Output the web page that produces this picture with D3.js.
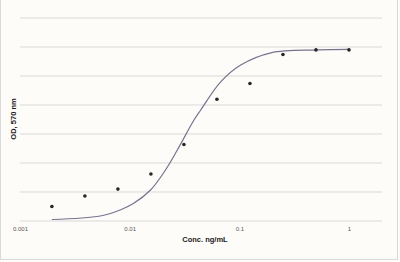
<!DOCTYPE html>
<html>
<head>
<meta charset="utf-8">
<script src="https://cdn.jsdelivr.net/npm/d3@7"></script>
<style>
  html, body { margin: 0; padding: 0; background: #fdfcf8; }
  svg { display: block; }
</style>
</head>
<body>
<div id="chart"></div>
<script>
// two-fold dilution series, ng/mL
const conc = [0.001953, 0.003906, 0.007813, 0.015625, 0.03125, 0.0625, 0.125, 0.25, 0.5, 1];
const od = [0.25, 0.43, 0.55, 0.81, 1.32, 2.10, 2.37, 2.87, 2.95, 2.95];

// fitted curve
const fitConc = [0.00195, 0.0054, 0.0082, 0.0108, 0.0155, 0.0212, 0.0272, 0.0386, 0.0443, 0.0676, 0.103, 0.194, 0.52, 1];
const fitOd = [0.026, 0.086, 0.19, 0.30, 0.534, 0.879, 1.224, 1.741, 1.91, 2.40, 2.69, 2.90, 2.95, 2.96];

const xTicks = [0.001, 0.01, 0.1, 1];
const xTickLabels = ['0.001', '0.01', '0.1', '1'];

const width = 400;
const height = 262;

const svg = d3.select('#chart').append('svg')
    .attr('width', width)
    .attr('height', height);

// outer frame
svg.append('rect')
    .attr('x', 0.5).attr('y', -1)
    .attr('width', width - 3).attr('height', height - 1.5)
    .attr('fill', '#fdfcf8')
    .attr('stroke', '#d9d9d9');

const x = d3.scaleLog().domain([0.001, 2]).range([20, 382]);
const y = d3.scaleLinear().domain([0, 3.5]).range([221, 18]);

// horizontal gridlines
svg.append('g')
    .selectAll('line')
    .data(d3.range(0, 3.51, 0.5))
    .enter()
    .append('line')
    .attr('x1', x.range()[0])
    .attr('x2', x.range()[1])
    .attr('y1', d => y(d))
    .attr('y2', d => y(d))
    .attr('stroke', '#d9d9d9')
    .attr('stroke-width', 1);

// x tick labels
const xAxis = d3.axisBottom(x)
    .tickValues(xTicks)
    .tickFormat((d, i) => xTickLabels[i])
    .tickSize(0)
    .tickPadding(6);

svg.append('g')
    .attr('transform', `translate(0,${y(0)})`)
    .call(xAxis)
    .call(g => g.select('.domain').remove())
    .selectAll('text')
    .attr('fill', '#595959')
    .style('font-family', 'Liberation Sans, Arial, sans-serif')
    .style('font-size', '6px');

// fitted curve
const fit = fitConc.map((c, i) => ({c: c, v: fitOd[i]}));
const line = d3.line()
    .x(d => x(d.c))
    .y(d => y(d.v))
    .curve(d3.curveCatmullRom.alpha(0.5));

svg.append('path')
    .datum(fit)
    .attr('d', line)
    .attr('fill', 'none')
    .attr('stroke', '#77738f')
    .attr('stroke-width', 1.2);

// measured points
svg.append('g')
    .selectAll('circle')
    .data(conc.map((c, i) => ({c: c, v: od[i]})))
    .enter()
    .append('circle')
    .attr('cx', d => x(d.c))
    .attr('cy', d => y(d.v))
    .attr('r', 1.8)
    .attr('fill', '#262626');

// axis titles
svg.append('text')
    .attr('x', 205)
    .attr('y', 242)
    .attr('text-anchor', 'middle')
    .style('font-family', 'Liberation Sans, Arial, sans-serif')
    .style('font-size', '7.5px')
    .style('font-weight', 'bold')
    .attr('fill', '#1a1a1a')
    .text('Conc. ng/mL');

svg.append('text')
    .attr('transform', 'translate(15.5,119) rotate(-90)')
    .attr('text-anchor', 'middle')
    .style('font-family', 'Liberation Sans, Arial, sans-serif')
    .style('font-size', '7.5px')
    .style('font-weight', 'bold')
    .attr('fill', '#1a1a1a')
    .text('OD, 570 nm');
</script>
</body>
</html>
